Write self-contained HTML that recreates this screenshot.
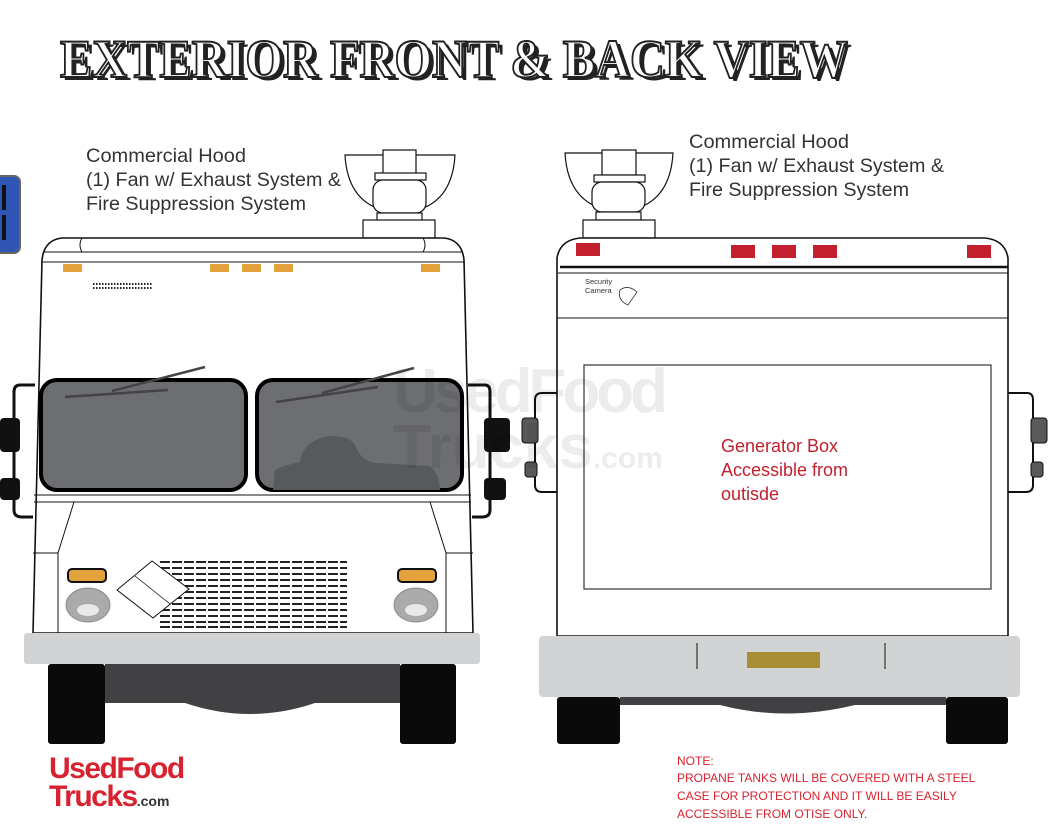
<!DOCTYPE html>
<html><head><meta charset="utf-8"><style>
html,body{margin:0;padding:0;background:#fff;}
svg{display:block}
</style></head><body>
<svg width="1064" height="830" viewBox="0 0 1064 830" xmlns="http://www.w3.org/2000/svg" font-family="Liberation Sans, sans-serif">
<text x="64" y="80" font-family="Liberation Serif, serif" font-weight="bold" font-size="54" textLength="788" lengthAdjust="spacingAndGlyphs" fill="#222">EXTERIOR FRONT &amp; BACK VIEW</text>
<text x="60" y="77" font-family="Liberation Serif, serif" font-weight="bold" font-size="54" textLength="788" lengthAdjust="spacingAndGlyphs" fill="#fff" stroke="#222" stroke-width="2">EXTERIOR FRONT &amp; BACK VIEW</text>

<rect x="-12" y="176" width="32" height="77" rx="6" fill="#2f55b5" stroke="#666" stroke-width="2"/>
<rect x="2" y="185" width="4" height="25" fill="#111"/>
<rect x="2" y="215" width="4" height="25" fill="#111"/>

<g font-size="19" fill="#333">
<text x="86" y="162" textLength="160" lengthAdjust="spacingAndGlyphs">Commercial Hood</text>
<text x="86" y="186" textLength="255" lengthAdjust="spacingAndGlyphs">(1) Fan w/ Exhaust System &amp;</text>
<text x="86" y="210" textLength="220" lengthAdjust="spacingAndGlyphs">Fire Suppression System</text>
<text x="689" y="148" textLength="160" lengthAdjust="spacingAndGlyphs">Commercial Hood</text>
<text x="689" y="172" textLength="255" lengthAdjust="spacingAndGlyphs">(1) Fan w/ Exhaust System &amp;</text>
<text x="689" y="196" textLength="220" lengthAdjust="spacingAndGlyphs">Fire Suppression System</text>
</g>

<g stroke="#111" fill="none" stroke-width="1.2">
 <path d="M345 155 L455 155 Q452 210 400 213 Q348 210 345 155 Z" fill="#fff"/>
 <rect x="383" y="150" width="33" height="25" fill="#fff"/>
 <rect x="375" y="173" width="51" height="7" fill="#fff"/>
 <rect x="373" y="180" width="53" height="33" rx="10" fill="#fff"/>
 <rect x="377" y="213" width="45" height="8" fill="#fff"/>
 <rect x="363" y="220" width="72" height="18" fill="#fff"/>
</g>
<g stroke="#111" fill="none" stroke-width="3">
 <path d="M35 385 H20 Q14 385 14 392 V510 Q14 517 22 517 H33"/>
 <path d="M468 385 H485 Q490 385 490 392 V510 Q490 517 482 517 H472"/>
</g>
<rect x="0" y="418" width="20" height="34" rx="4" fill="#111"/>
<rect x="0" y="478" width="20" height="22" rx="4" fill="#111"/>
<rect x="484" y="418" width="26" height="34" rx="4" fill="#111"/>
<rect x="484" y="478" width="22" height="22" rx="4" fill="#111"/>
<path d="M42 260 Q44 240 62 238 L444 238 Q462 240 464 260 L473 633 L33 633 Z" fill="#fff" stroke="#111" stroke-width="1.6"/>
<path d="M82 238 Q78 245 82 252 M423 238 Q427 245 423 252" stroke="#111" fill="none"/>
<line x1="43" y1="252" x2="463" y2="252" stroke="#111"/>
<line x1="42" y1="262" x2="464" y2="262" stroke="#111"/>
<g fill="#e3a23c">
<rect x="63" y="264" width="19" height="8"/><rect x="210" y="264" width="19" height="8"/><rect x="242" y="264" width="19" height="8"/><rect x="274" y="264" width="19" height="8"/><rect x="421" y="264" width="19" height="8"/>
</g>
<line x1="93" y1="284" x2="153" y2="284" stroke="#222" stroke-width="2" stroke-dasharray="1.5 1.5"/>
<line x1="93" y1="288" x2="153" y2="288" stroke="#222" stroke-width="2" stroke-dasharray="1.5 1.5"/>
<rect x="41" y="380" width="205" height="110" rx="16" fill="#6d6e71" stroke="#000" stroke-width="4"/>
<rect x="257" y="380" width="205" height="110" rx="16" fill="#6d6e71" stroke="#000" stroke-width="4"/>
<path d="M273 490 L275 470 Q285 465 300 462 Q303 440 330 436 Q350 436 355 445 Q360 460 375 463 L430 466 Q440 475 440 490 Z" fill="#58595b"/>
<g stroke="#444" stroke-width="2.5" fill="none">
 <path d="M65 397 L168 390 M112 391 L205 367"/>
 <path d="M276 402 L378 387 M322 393 L414 368"/>
</g>
<line x1="34" y1="495" x2="471" y2="495" stroke="#111"/>
<line x1="34" y1="502" x2="471" y2="502" stroke="#111"/>
<path d="M74 502 L58 553 V633 M33 553 H58 M430 502 L446 553 V633 M473 553 H446" stroke="#111" fill="none"/>
<rect x="68" y="569" width="38" height="13" rx="4" fill="#e3a23c" stroke="#111" stroke-width="2"/>
<rect x="398" y="569" width="38" height="13" rx="4" fill="#e3a23c" stroke="#111" stroke-width="2"/>
<ellipse cx="88" cy="605" rx="22" ry="17" fill="#aaa" stroke="#888"/>
<ellipse cx="88" cy="610" rx="11" ry="6" fill="#e8e8e8"/>
<ellipse cx="416" cy="605" rx="22" ry="17" fill="#aaa" stroke="#888"/>
<ellipse cx="416" cy="610" rx="11" ry="6" fill="#e8e8e8"/>
<g stroke="#222" stroke-width="2" stroke-dasharray="10 2">
<line x1="160" y1="562" x2="347" y2="562"/><line x1="160" y1="568" x2="347" y2="568"/><line x1="160" y1="574" x2="347" y2="574"/><line x1="160" y1="580" x2="347" y2="580"/><line x1="160" y1="586" x2="347" y2="586"/><line x1="160" y1="592" x2="347" y2="592"/><line x1="160" y1="598" x2="347" y2="598"/><line x1="160" y1="604" x2="347" y2="604"/><line x1="160" y1="610" x2="347" y2="610"/><line x1="160" y1="616" x2="347" y2="616"/><line x1="160" y1="622" x2="347" y2="622"/><line x1="160" y1="627" x2="347" y2="627"/>
</g>
<path d="M152 561 L189 589 L153 618 L117 590 Z" fill="#fff" stroke="#111" stroke-width="1"/>
<path d="M135 576 L170 604" stroke="#111" stroke-width="0.8"/>
<rect x="24" y="633" width="456" height="31" rx="3" fill="#d1d3d4"/>
<path d="M105 664 H400 V703 H315 Q250 725 185 703 H105 Z" fill="#414042"/>
<rect x="48" y="664" width="57" height="80" rx="3" fill="#0a0a0a"/>
<rect x="400" y="664" width="56" height="80" rx="3" fill="#0a0a0a"/>

<g stroke="#111" fill="none" stroke-width="1.2">
 <path d="M565 153 L673 153 Q670 208 619 212 Q568 208 565 153 Z" fill="#fff"/>
 <rect x="602" y="150" width="34" height="25" fill="#fff"/>
 <rect x="594" y="175" width="51" height="7" fill="#fff"/>
 <rect x="592" y="182" width="53" height="30" rx="10" fill="#fff"/>
 <rect x="596" y="212" width="45" height="8" fill="#fff"/>
 <rect x="583" y="220" width="72" height="18" fill="#fff"/>
</g>
<g stroke="#111" fill="none" stroke-width="2">
 <path d="M557 393 H542 Q535 393 535 400 V485 Q535 492 542 492 H557"/>
 <path d="M1008 393 H1027 Q1033 393 1033 400 V485 Q1033 492 1026 492 H1008"/>
</g>
<rect x="522" y="418" width="16" height="25" rx="3" fill="#58595b" stroke="#111"/>
<rect x="525" y="462" width="12" height="15" rx="3" fill="#58595b" stroke="#111"/>
<rect x="1031" y="418" width="16" height="25" rx="3" fill="#58595b" stroke="#111"/>
<rect x="1031" y="462" width="12" height="15" rx="3" fill="#58595b" stroke="#111"/>
<path d="M557 258 Q560 240 580 238 L985 238 Q1005 240 1008 258 L1008 636 L557 636 Z" fill="#fff" stroke="#111" stroke-width="1.6"/>
<line x1="560" y1="267" x2="1008" y2="267" stroke="#111" stroke-width="2.5"/>
<line x1="558" y1="273" x2="1008" y2="273" stroke="#111"/>
<line x1="557" y1="318" x2="1008" y2="318" stroke="#111"/>
<g fill="#c3202f">
<rect x="576" y="243" width="24" height="13"/><rect x="731" y="245" width="24" height="13"/><rect x="772" y="245" width="24" height="13"/><rect x="813" y="245" width="24" height="13"/><rect x="967" y="245" width="24" height="13"/>
</g>
<text x="585" y="284" font-size="7.5" fill="#333">Security</text>
<text x="585" y="293" font-size="7.5" fill="#333">Camera</text>
<path d="M620 290 Q628 284 637 292 L628 305 Q617 300 620 290 Z" fill="none" stroke="#333" stroke-width="0.8"/>
<rect x="584" y="365" width="407" height="224" fill="#fff" stroke="#333" stroke-width="1.2"/>
<g font-size="18" fill="#c3202f">
<text x="721" y="452">Generator Box</text>
<text x="721" y="476">Accessible from</text>
<text x="721" y="500">outisde</text>
</g>
<rect x="539" y="636" width="481" height="61" rx="4" fill="#d1d3d4"/>
<line x1="697" y1="643" x2="697" y2="669" stroke="#111"/>
<line x1="885" y1="643" x2="885" y2="669" stroke="#111"/>
<rect x="747" y="652" width="73" height="16" fill="#a88f35"/>
<path d="M620 697 H946 V705 H855 Q785 722 720 705 H620 Z" fill="#414042"/>
<rect x="557" y="697" width="63" height="47" rx="3" fill="#0a0a0a"/>
<rect x="946" y="697" width="62" height="47" rx="3" fill="#0a0a0a"/>

<text x="393" y="412" font-size="62" font-weight="bold" fill="#000" opacity="0.07" textLength="275">UsedFood</text>
<text x="393" y="468" font-size="62" font-weight="bold" fill="#000" opacity="0.07">Trucks<tspan font-size="30">.com</tspan></text>

<g font-weight="bold" fill="#d9222f" font-size="30" letter-spacing="-1.5">
<text x="49" y="778">UsedFood</text>
<text x="49" y="806">Trucks<tspan font-size="14" fill="#333" letter-spacing="0">.com</tspan></text>
</g>
<g font-size="12" fill="#d9222f">
<text x="677" y="765">NOTE:</text>
<text x="677" y="782">PROPANE TANKS WILL BE COVERED WITH A STEEL</text>
<text x="677" y="800">CASE FOR PROTECTION AND IT WILL BE EASILY</text>
<text x="677" y="818">ACCESSIBLE FROM OTISE ONLY.</text>
</g>
</svg>
</body></html>
